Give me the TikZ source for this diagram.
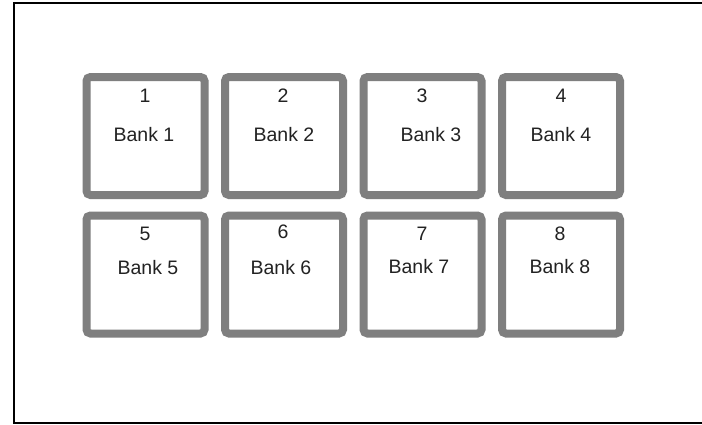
\documentclass[tikz,border=0pt]{standalone}
\usepackage{fontspec}
\setmainfont{Liberation Sans}
\usetikzlibrary{shadows}
\definecolor{padgray}{HTML}{7F7F7F}
\definecolor{txt}{HTML}{222222}
\tikzset{
  pad/.style={draw=padgray, line width=8pt, rounded corners=4pt, fill=white,
    minimum width=118pt, minimum height=118pt, inner sep=0pt,
    drop shadow={opacity=0.18, shadow xshift=0pt, shadow yshift=-2pt}},
  lbl/.style={anchor=base, inner sep=0pt, text=txt, font=\fontsize{19.5}{22}\selectfont},
  frame/.style={line width=2.5pt, draw=black}
}
\begin{document}
\begin{tikzpicture}[x=1pt,y=-1pt]
\useasboundingbox (0,0) rectangle (702,424);
\fill[white] (0,0) rectangle (702,424);
\coordinate (ftr) at (702,3);
\coordinate (ftl) at (14,3);
\coordinate (fbl) at (14,423);
\coordinate (fbr) at (702,423);
\draw[frame] (ftr) -- (ftl) -- (fbl) -- (fbr);
% pads
\node[pad] (p1) at (145.5,136) {};
\node[pad] (p2) at (284,136) {};
\node[pad] (p3) at (422.5,136) {};
\node[pad] (p4) at (561,136) {};
\node[pad] (p5) at (145.5,274.5) {};
\node[pad] (p6) at (284,274.5) {};
\node[pad] (p7) at (422.5,274.5) {};
\node[pad] (p8) at (561,274.5) {};
% numbers
\node[lbl] (n1) at (145,102) {1};
\node[lbl] (n2) at (283,102) {2};
\node[lbl] (n3) at (422,102) {3};
\node[lbl] (n4) at (561,102) {4};
\node[lbl] (n5) at (145,240) {5};
\node[lbl] (n6) at (283,238) {6};
\node[lbl] (n7) at (422,240) {7};
\node[lbl] (n8) at (560,240) {8};
% banks
\node[lbl] (b1) at (144,141) {Bank 1};
\node[lbl] (b2) at (284,141) {Bank 2};
\node[lbl] (b3) at (431,141) {Bank 3};
\node[lbl] (b4) at (561,141) {Bank 4};
\node[lbl] (b5) at (148,274) {Bank 5};
\node[lbl] (b6) at (281,274) {Bank 6};
\node[lbl] (b7) at (419,273) {Bank 7};
\node[lbl] (b8) at (560,273) {Bank 8};
\end{tikzpicture}
\end{document}
